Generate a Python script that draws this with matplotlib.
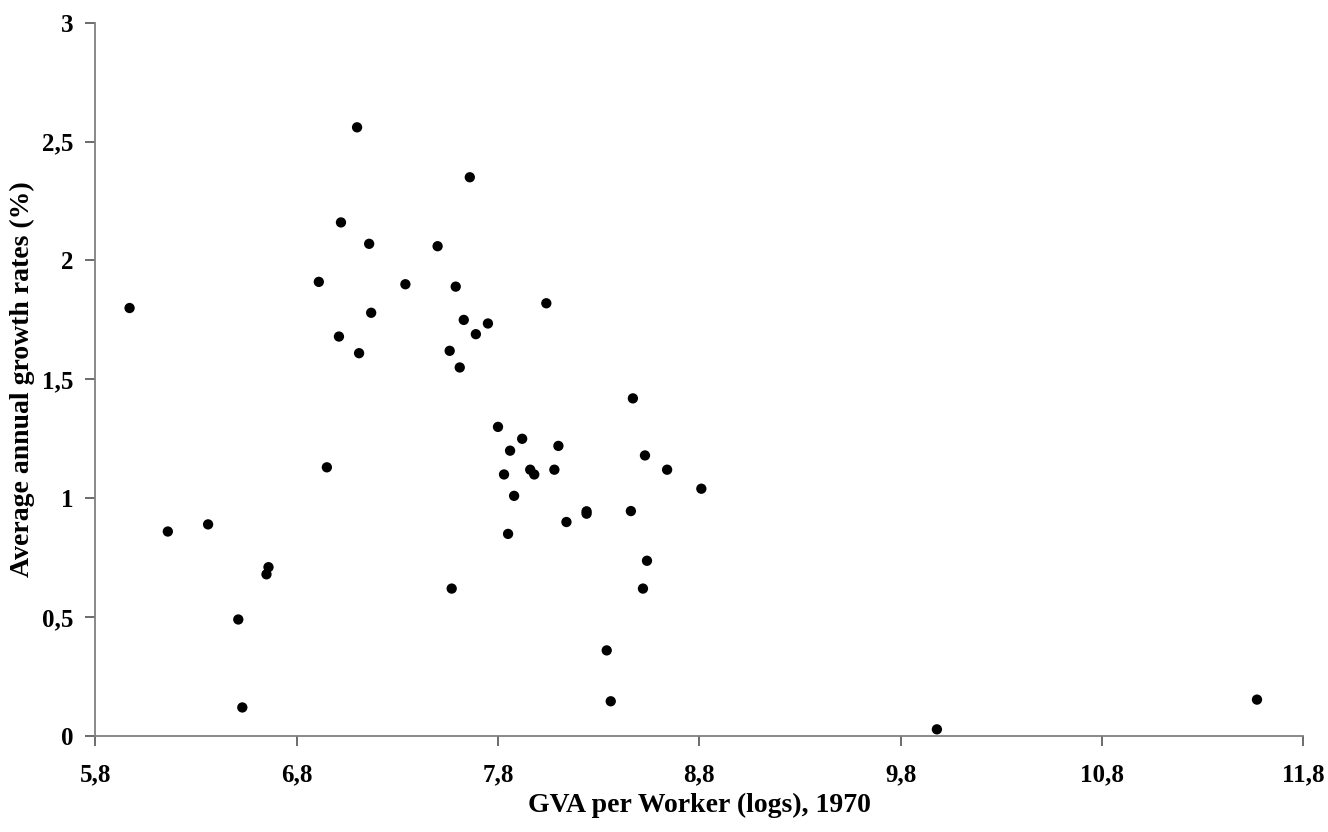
import numpy as np
import matplotlib.pyplot as plt
from matplotlib.ticker import FuncFormatter, MultipleLocator

plt.rcParams['font.family'] = ['Liberation Serif', 'DejaVu Serif']
plt.rcParams['font.weight'] = 'bold'

# GVA per worker (logs) 1970 vs average annual growth rate (%)
gva_1970 = [5.97, 6.16, 6.36, 6.51, 6.53, 6.66, 6.65, 6.91, 6.95, 7.01,
            7.02, 7.10, 7.11, 7.16, 7.17, 7.34, 7.50, 7.56, 7.57, 7.59,
            7.61, 7.63, 7.66, 7.69, 7.75, 7.80, 7.83, 7.85, 7.86, 7.88,
            7.92, 7.96, 7.98, 8.04, 8.08, 8.10, 8.14, 8.24, 8.24, 8.34,
            8.36, 8.46, 8.47, 8.52, 8.53, 8.54, 8.64, 8.81, 9.98, 11.57]
growth = [1.80, 0.86, 0.89, 0.49, 0.12, 0.71, 0.68, 1.91, 1.13, 1.68,
          2.16, 2.56, 1.61, 2.07, 1.78, 1.90, 2.06, 1.62, 0.62, 1.89,
          1.55, 1.75, 2.35, 1.69, 1.735, 1.30, 1.10, 0.85, 1.20, 1.01,
          1.25, 1.12, 1.10, 1.82, 1.12, 1.22, 0.90, 0.945, 0.935, 0.36,
          0.146, 0.946, 1.42, 0.62, 1.18, 0.737, 1.12, 1.04, 0.028, 0.153]
x_ticks = [5.8, 6.8, 7.8, 8.8, 9.8, 10.8, 11.8]

fig = plt.figure(figsize=(13.28, 8.32), dpi=100)
ax = fig.add_axes([0.0718, 0.1154, 0.9096, 0.8573])

ax.scatter(gva_1970, growth, s=55, color='black', edgecolors='none', zorder=3)

ax.set_xlim(5.8, 11.8)
ax.set_ylim(0, 3)
ax.set_xticks(x_ticks)
ax.yaxis.set_major_locator(MultipleLocator(0.5))

comma = FuncFormatter(lambda v, p: ('%g' % round(v, 2)).replace('.', ','))
ax.xaxis.set_major_formatter(comma)
ax.yaxis.set_major_formatter(comma)

for s in ['top', 'right']:
    ax.spines[s].set_visible(False)
for s in ['left', 'bottom']:
    ax.spines[s].set_color('#808080')
    ax.spines[s].set_linewidth(1.3)

ax.tick_params(axis='x', direction='out', length=7, width=1.3, color='#606060',
               labelsize=18, pad=13)
ax.tick_params(axis='y', direction='out', length=7, width=1.3, color='#606060',
               labelsize=18, pad=9)
for lab in ax.get_xticklabels() + ax.get_yticklabels():
    lab.set_fontweight('bold')

ax.set_xlabel('GVA per Worker (logs), 1970', fontsize=20, fontweight='bold')
ax.xaxis.set_label_coords(0.5, -0.08)
ax.set_ylabel('Average annual growth rates (%)', fontsize=20, fontweight='bold')
ax.yaxis.set_label_coords(-0.05, 0.5)

fig.savefig('out.png', dpi=100)
